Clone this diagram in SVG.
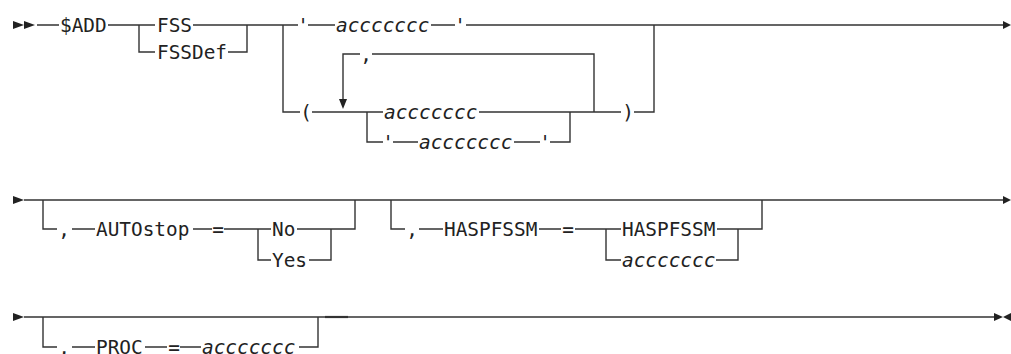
<svg xmlns="http://www.w3.org/2000/svg" width="1011" height="354" viewBox="0 0 1011 354">
<style>
.t{font-family:"DejaVu Sans Mono","Liberation Mono",monospace;font-size:19.4px;fill:#222}
.i{font-style:italic}
.m{text-anchor:middle}
.c path,.c line{stroke:#333;stroke-width:1.4;fill:none}
.a{fill:#222;stroke:none}
</style>
<rect width="1011" height="354" fill="#fff"/>
<g id="connectors" class="c">
<!-- row 1 -->
<path d="M37 25H59M108 25H155M139 25V52H155M193 25H247M228 52H247V25M247 25H298M283 25V112H300M308 25H335M431 25H455M466 25H1004"/>
<path d="M312 112H383M367 112V142H383M393 142H418M514 142H540M550 142H570V112M479 112H621M634 112H654V25"/>
<path d="M343 100V54H360M372 54H594V112"/>
<!-- row 2 -->
<path d="M24 200H1004M43 200V229H57M72 229H95M193 229H212M224 229H271M258 229V260H271M297 229H331M309 260H331V229M331 229H355V200"/>
<path d="M391 200V229H405M419 229H443M539 229H561M575 229H621M606 229V260H621M717 229H738M716 260H738V229M738 229H762V200"/>
<!-- row 3 -->
<path d="M24 317H994M43 317V347H57M72 347H95M145 347H167M180 347H201M299 347H318V317"/>
<path d="M325 317H348" style="stroke-width:2.2"/>
<!-- arrowheads -->
<polygon class="a" points="13,21 24,25 13,29"/>
<polygon class="a" points="24,21 35,25 24,29"/>
<polygon class="a" points="1003,21 1011,25 1003,29"/>
<polygon class="a" points="339,99 347,99 343,109"/>
<polygon class="a" points="13,196 24,200 13,204"/>
<polygon class="a" points="1003,196 1011,200 1003,204"/>
<polygon class="a" points="13,313 24,317 13,321"/>
<polygon class="a" points="994,313 1003,317 994,321"/>
<polygon class="a" points="1011,313 1003,317 1011,321"/>
</g>
<g id="n-add"><text class="t" x="60" y="32">$ADD</text></g>
<g id="n-fss"><text class="t" x="157" y="32">FSS</text></g>
<g id="n-fssdef"><text class="t" x="157" y="59">FSSDef</text></g>
<g id="n-q1"><text class="t m" x="303" y="32">'</text></g>
<g id="n-acc1"><text class="t i" x="336" y="32">accccccc</text></g>
<g id="n-q2"><text class="t m" x="460" y="32">'</text></g>
<g id="n-lparen"><text class="t m" x="306" y="119">(</text></g>
<g id="n-comma1"><text class="t m" x="366" y="61">,</text></g>
<g id="n-acc2"><text class="t i" x="384" y="119">accccccc</text></g>
<g id="n-q3"><text class="t m" x="388" y="149">'</text></g>
<g id="n-acc3"><text class="t i" x="419" y="149">accccccc</text></g>
<g id="n-q4"><text class="t m" x="545" y="149">'</text></g>
<g id="n-rparen"><text class="t m" x="628" y="119">)</text></g>
<g id="n-comma2"><text class="t m" x="64" y="236">,</text></g>
<g id="n-autostop"><text class="t" x="96" y="236">AUTOstop</text></g>
<g id="n-eq1"><text class="t m" x="218" y="236">=</text></g>
<g id="n-no"><text class="t" x="272" y="236">No</text></g>
<g id="n-yes"><text class="t" x="272" y="267">Yes</text></g>
<g id="n-comma3"><text class="t m" x="412" y="236">,</text></g>
<g id="n-haspfssm"><text class="t" x="444" y="236">HASPFSSM</text></g>
<g id="n-eq2"><text class="t m" x="568" y="236">=</text></g>
<g id="n-haspfssm2"><text class="t" x="622" y="236">HASPFSSM</text></g>
<g id="n-acc4"><text class="t i" x="622" y="267">accccccc</text></g>
<g id="n-comma4"><text class="t m" x="64" y="354">,</text></g>
<g id="n-proc"><text class="t" x="96" y="354">PROC</text></g>
<g id="n-eq3"><text class="t m" x="174" y="354">=</text></g>
<g id="n-acc5"><text class="t i" x="202" y="354">accccccc</text></g>
</svg>
